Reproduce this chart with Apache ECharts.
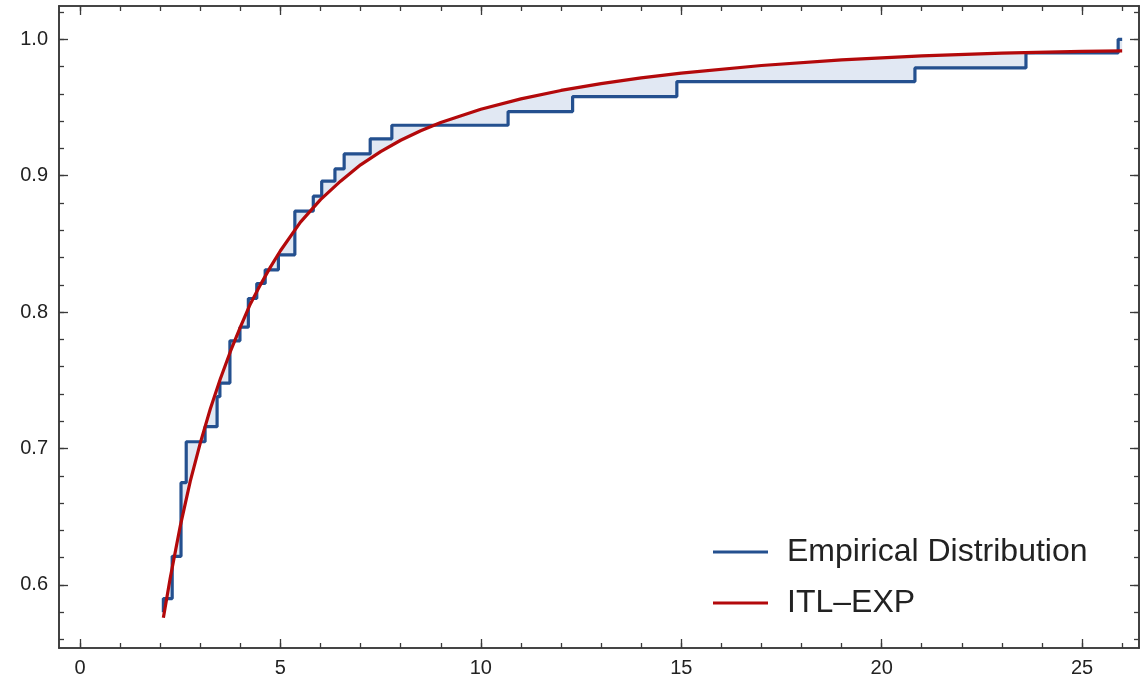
<!DOCTYPE html>
<html><head><meta charset="utf-8">
<script src="https://cdn.jsdelivr.net/npm/echarts@6/dist/echarts.min.js"></script>
<style>html,body{margin:0;padding:0;background:#fff}#c{width:1141px;height:688px}</style>
</head><body><div id="c"></div>
<script>
// Empirical distribution: jump positions and CDF level after each jump
const stepX = [2.08, 2.08, 2.30, 2.52, 2.65, 3.12, 3.42, 3.49, 3.74, 3.99, 4.20, 4.41, 4.62, 4.95, 5.36, 5.82, 6.03, 6.36, 6.59, 7.24, 7.78, 10.68, 12.29, 14.89, 20.83, 23.60, 25.90, 26.00];
const stepY = [0.580, 0.590, 0.621, 0.675, 0.705, 0.716, 0.738, 0.748, 0.779, 0.789, 0.810, 0.821, 0.831, 0.842, 0.874, 0.885, 0.896, 0.905, 0.916, 0.927, 0.937, 0.947, 0.958, 0.969, 0.979, 0.990, 1.000, 1.000];
// Fitted ITL-EXP CDF
const curveX = [2.08, 2.25, 2.50, 2.75, 3.00, 3.25, 3.50, 3.75, 4.00, 4.25, 4.50, 4.75, 5.00, 5.50, 6.00, 6.50, 7.00, 7.50, 8.00, 8.50, 9.00, 10.0, 11.0, 12.0, 13.0, 14.0, 15.0, 17.0, 19.0, 21.0, 23.0, 25.0, 26.0];
const curveY = [0.576, 0.605, 0.643, 0.676, 0.704, 0.729, 0.751, 0.771, 0.789, 0.806, 0.820, 0.833, 0.845, 0.866, 0.8825, 0.896, 0.908, 0.9176, 0.926, 0.933, 0.939, 0.9487, 0.9563, 0.9625, 0.9675, 0.9717, 0.9752, 0.9808, 0.9849, 0.9878, 0.9898, 0.9911, 0.9915];
const seriesNames = ['Empirical Distribution', 'ITL\u2013EXP'];
const xMajorTicks = [0, 5, 10, 15, 20, 25];
const xMinorTicks = [0, 1, 2, 3, 4, 5, 6, 7, 8, 9, 10, 11, 12, 13, 14, 15, 16, 17, 18, 19, 20, 21, 22, 23, 24, 25, 26];
const yMajorTicks = [0.6, 0.7, 0.8, 0.9, 1.0];
const yMinorTicks = [0.56, 0.58, 0.6, 0.62, 0.64, 0.66, 0.68, 0.7, 0.72, 0.74, 0.76, 0.78, 0.8, 0.82, 0.84, 0.86, 0.88, 0.9, 0.92, 0.94, 0.96, 0.98, 1.0, 1.02];

const X_MIN = -0.524, X_MAX = 26.42, Y_MIN = 0.5538, Y_MAX = 1.0244;
const BLUE = '#24508f', RED = '#b3090b', FILL = 'rgba(120,150,200,0.22)', FRAME = '#3a3a3a';
const FONT = 'Liberation Sans, Arial, sans-serif';

const stepData = stepX.map((x, i) => [x, stepY[i]]);
const curveData = curveX.map((x, i) => [x, curveY[i]]);

function xAxisDef(pos, ticks, len, labels) {
  return {
    type: 'value', position: pos, min: X_MIN, max: X_MAX, gridIndex: 0,
    axisLine: { show: true, onZero: false, lineStyle: { color: FRAME, width: 1.6 } },
    axisTick: { show: true, inside: true, length: len, customValues: ticks, lineStyle: { color: FRAME, width: 1.3 } },
    axisLabel: labels ? { show: true, customValues: ticks, margin: 10, fontSize: 20, color: '#222', fontFamily: FONT } : { show: false },
    splitLine: { show: false }
  };
}
function yAxisDef(pos, ticks, len, labels) {
  return {
    type: 'value', position: pos, min: Y_MIN, max: Y_MAX, gridIndex: 0,
    axisLine: { show: true, onZero: false, lineStyle: { color: FRAME, width: 1.6 } },
    axisTick: { show: true, inside: true, length: len, customValues: ticks, lineStyle: { color: FRAME, width: 1.3 } },
    axisLabel: labels ? { show: true, customValues: ticks, margin: 11, fontSize: 20, color: '#222', fontFamily: FONT, formatter: v => v.toFixed(1) } : { show: false },
    splitLine: { show: false }
  };
}

const chart = echarts.init(document.getElementById('c'), null, { renderer: 'canvas' });
chart.setOption({
  animation: false,
  backgroundColor: '#fff',
  grid: { left: 59, right: 2, top: 6, bottom: 40, containLabel: false },
  xAxis: [
    xAxisDef('bottom', xMajorTicks, 9, true),
    xAxisDef('bottom', xMinorTicks, 5, false),
    xAxisDef('top', xMajorTicks, 9, false),
    xAxisDef('top', xMinorTicks, 5, false)
  ],
  yAxis: [
    yAxisDef('left', yMajorTicks, 9, true),
    yAxisDef('left', yMinorTicks, 5, false),
    yAxisDef('right', yMajorTicks, 9, false),
    yAxisDef('right', yMinorTicks, 5, false)
  ],
  legend: {
    orient: 'vertical', left: 713, top: 535, padding: 0, itemGap: 17,
    icon: 'rect', itemWidth: 55, itemHeight: 3,
    textStyle: { fontSize: 32, lineHeight: 34, color: '#222', fontFamily: FONT, padding: [0, 0, 0, 14] },
    data: seriesNames
  },
  series: [
    {
      type: 'custom', silent: true, clip: true, z: 1,
      xAxisIndex: 0, yAxisIndex: 0,
      data: [[0]],
      renderItem: function (params, api) {
        const pts = [];
        for (let i = 0; i < stepData.length; i++) {
          pts.push(api.coord(stepData[i]));
          if (i + 1 < stepData.length) pts.push(api.coord([stepData[i + 1][0], stepData[i][1]]));
        }
        for (let j = curveData.length - 1; j >= 0; j--) pts.push(api.coord(curveData[j]));
        return { type: 'polygon', shape: { points: pts }, style: { fill: FILL, stroke: null } };
      }
    },
    {
      name: seriesNames[0], type: 'line', step: 'end', data: stepData, z: 3,
      xAxisIndex: 0, yAxisIndex: 0, showSymbol: false, symbol: 'none',
      itemStyle: { color: BLUE }, lineStyle: { color: BLUE, width: 3.2 }
    },
    {
      name: seriesNames[1], type: 'line', data: curveData, z: 4, smooth: false,
      xAxisIndex: 0, yAxisIndex: 0, showSymbol: false, symbol: 'none',
      itemStyle: { color: RED }, lineStyle: { color: RED, width: 3.2, join: 'round' }
    }
  ]
});
</script></body></html>
